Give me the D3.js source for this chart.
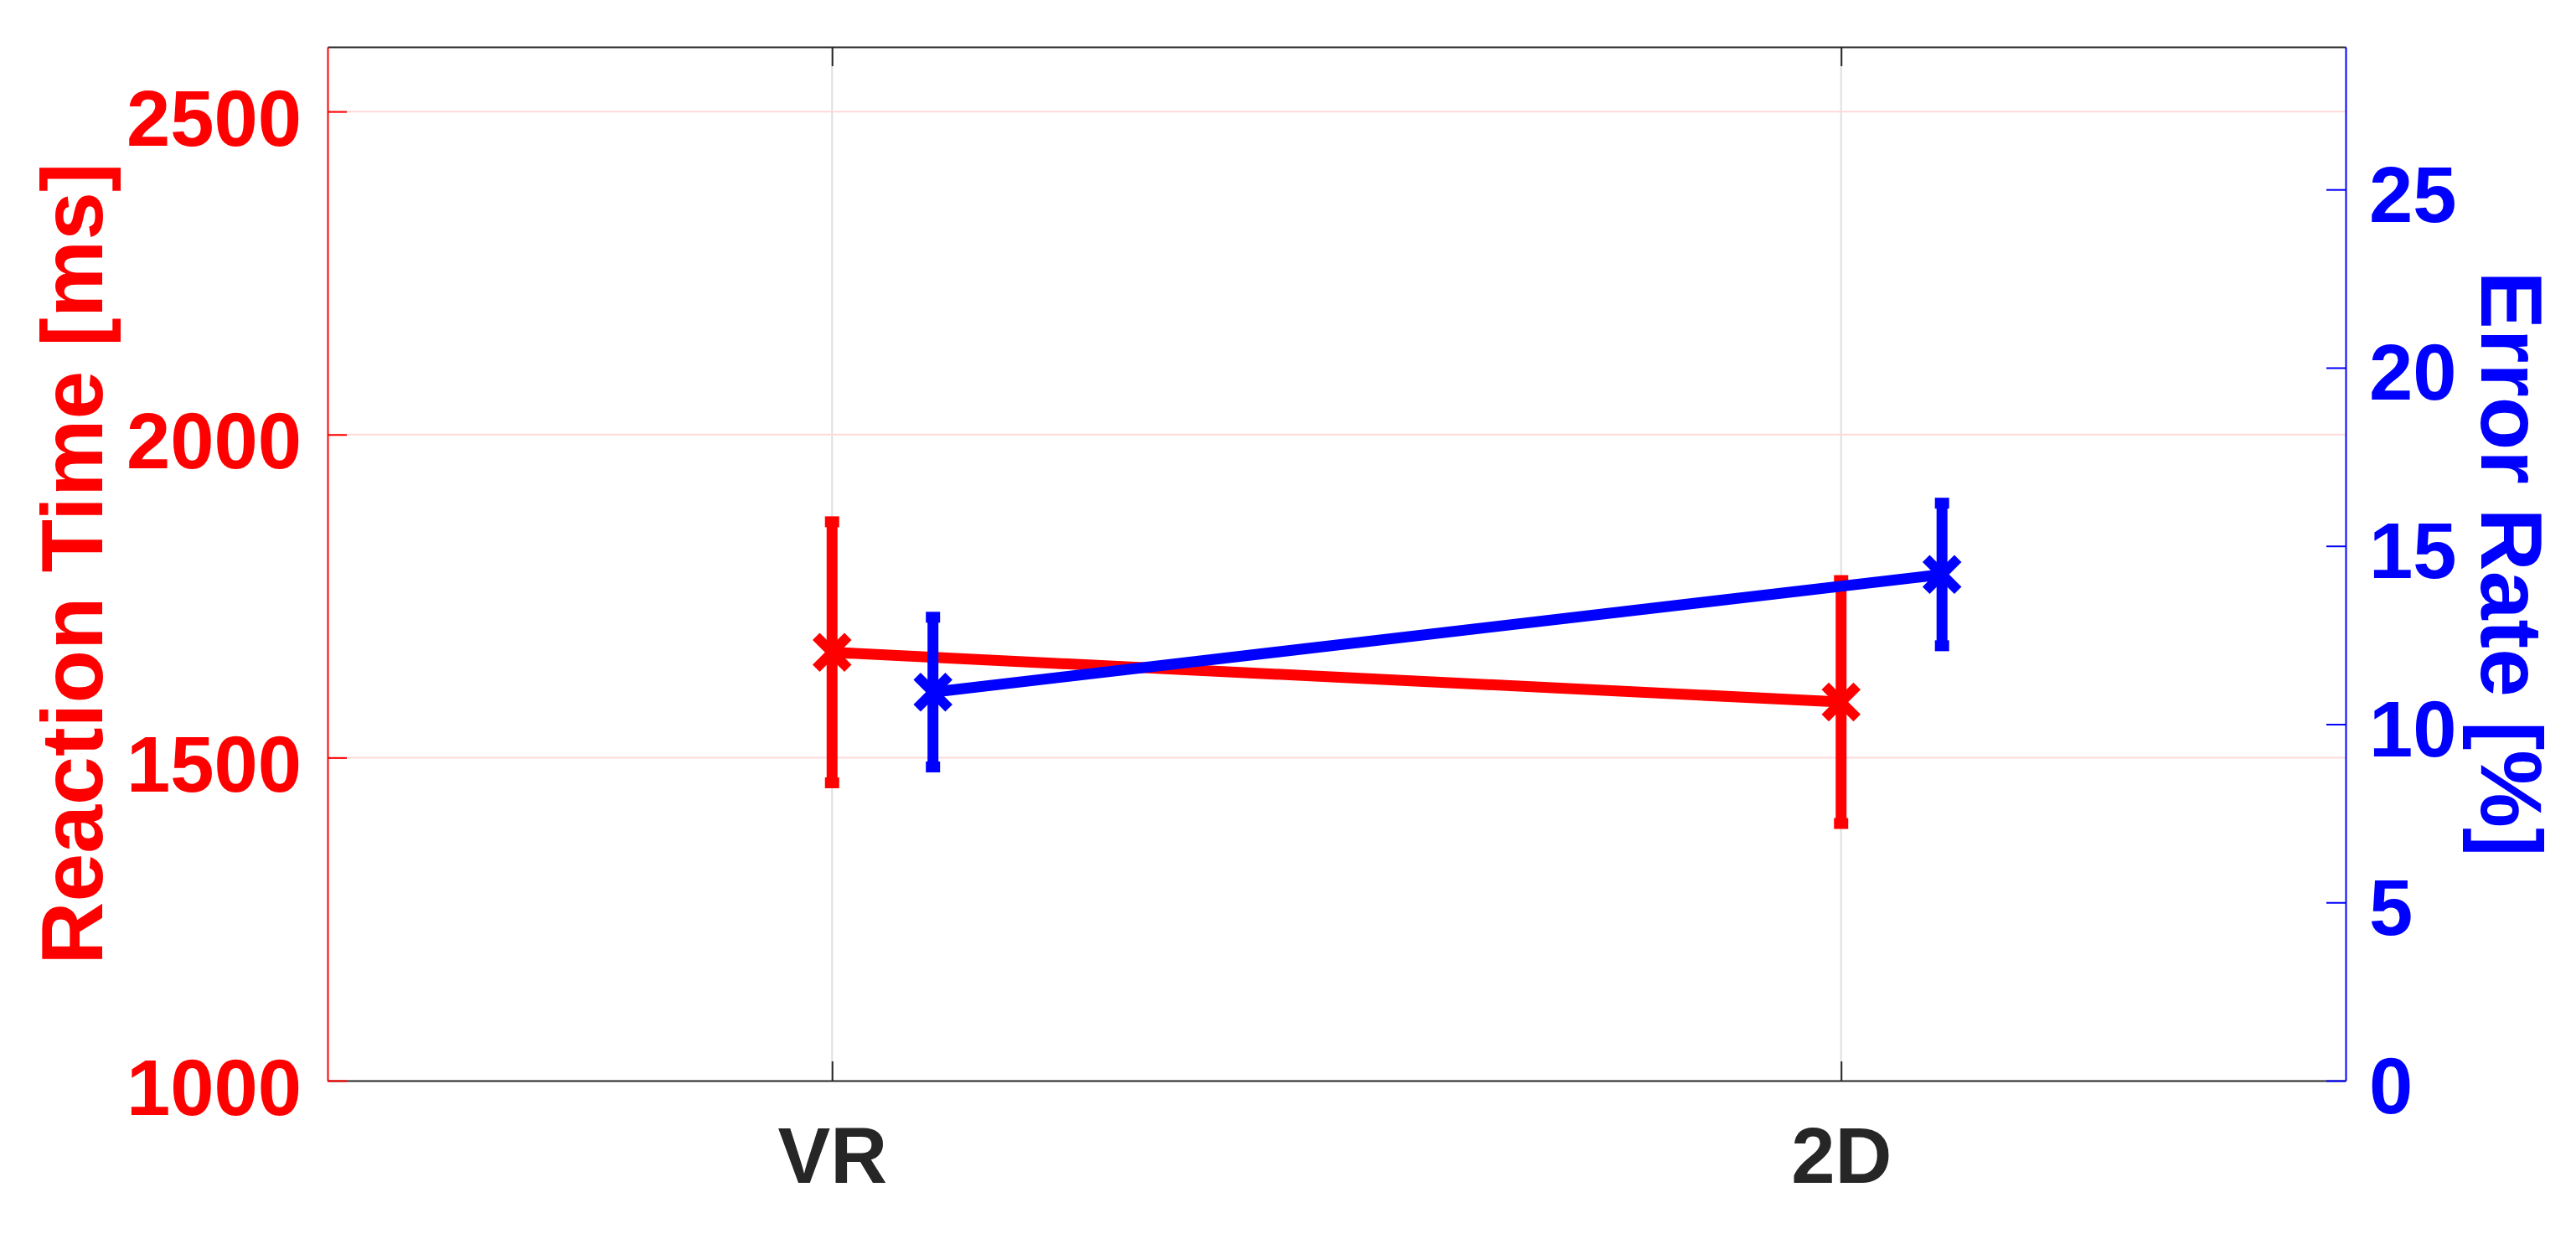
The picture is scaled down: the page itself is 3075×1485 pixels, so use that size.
<!DOCTYPE html>
<html>
<head>
<meta charset="utf-8">
<script src="https://cdn.jsdelivr.net/npm/d3@7"></script>
<style>
  html, body { margin: 0; padding: 0; background: #ffffff; }
  svg { display: block; }
  text { font-family: "Liberation Sans", Arial, Helvetica, sans-serif; font-weight: bold; }
</style>
</head>
<body>
<svg id="chart" width="3075" height="1485"></svg>
<script>
// ---- Data ----
const categories = ["VR", "2D"];
const rtMean = [1663, 1586];      // Reaction Time [ms]
const rtErr = [202, 188];
const errMean = [10.9, 14.2];     // Error Rate [%]
const errErr = [2.1, 2.0];
const leftTicks = [1000, 1500, 2000, 2500];
const rightTicks = [0, 5, 10, 15, 20, 25];
const errOffset = 0.1;

// ---- Layout ----
const W = 3075, H = 1485;
const L = 391, R = 2800, T = 56, B = 1290;
const RED = "#ff0000", BLUE = "#0000ff", DARK = "#262626";

const svg = d3.select("#chart");
svg.append("rect").attr("width", W).attr("height", H).attr("fill", "#fff");

const x = d3.scaleLinear().domain([0.5, 2.5]).range([L, R]);
const yL = d3.scaleLinear().domain([1000, 2600]).range([B, T]);
const yR = d3.scaleLinear().domain([0, 29]).range([B, T]);

// ---- Grid ----
const grid = svg.append("g");
grid.selectAll(".vg").data(categories).enter().append("line")
  .attr("x1", (d, i) => x(i + 1)).attr("x2", (d, i) => x(i + 1))
  .attr("y1", T).attr("y2", B)
  .attr("stroke", "#dfdfdf").attr("stroke-width", 2);
grid.selectAll(".hg").data(leftTicks.filter(v => v > 1000)).enter().append("line")
  .attr("x1", L).attr("x2", R)
  .attr("y1", d => yL(d)).attr("y2", d => yL(d))
  .attr("stroke", "#ffd9d9").attr("stroke-width", 2);

// ---- Axes ----
const tickLen = 23;
const xAxisB = d3.axisBottom(x).tickValues([1, 2]).tickFormat((d) => categories[d - 1])
  .tickSizeInner(-tickLen).tickSizeOuter(0).tickPadding(0);
const gB = svg.append("g").attr("transform", `translate(0,${B})`).call(xAxisB);
gB.select(".domain").attr("stroke", DARK).attr("stroke-width", 2);
gB.selectAll(".tick line").attr("stroke", DARK).attr("stroke-width", 2);
gB.selectAll(".tick text").attr("fill", DARK).attr("font-size", 94)
  .attr("dy", null).attr("y", 122);

const xAxisT = d3.axisTop(x).tickValues([1, 2]).tickFormat("")
  .tickSizeInner(-tickLen).tickSizeOuter(0);
const gT = svg.append("g").attr("transform", `translate(0,${T})`).call(xAxisT);
gT.select(".domain").attr("stroke", DARK).attr("stroke-width", 2);
gT.selectAll(".tick line").attr("stroke", DARK).attr("stroke-width", 2);

const yAxisL = d3.axisLeft(yL).tickValues(leftTicks).tickFormat(d3.format("d"))
  .tickSizeInner(-tickLen).tickSizeOuter(0).tickPadding(0);
const gL = svg.append("g").attr("transform", `translate(${L},0)`).call(yAxisL);
gL.select(".domain").attr("stroke", RED).attr("stroke-width", 2);
gL.selectAll(".tick line").attr("stroke", RED).attr("stroke-width", 2);
gL.selectAll(".tick text").attr("fill", RED).attr("font-size", 94)
  .attr("x", -31).attr("dy", null).attr("y", 40).attr("text-anchor", "end");

const yAxisR = d3.axisRight(yR).tickValues(rightTicks).tickFormat(d3.format("d"))
  .tickSizeInner(-tickLen).tickSizeOuter(0).tickPadding(0);
const gR = svg.append("g").attr("transform", `translate(${R},0)`).call(yAxisR);
gR.select(".domain").attr("stroke", BLUE).attr("stroke-width", 2);
gR.selectAll(".tick line").attr("stroke", BLUE).attr("stroke-width", 2);
gR.selectAll(".tick text").attr("fill", BLUE).attr("font-size", 94)
  .attr("x", 28).attr("dy", null).attr("y", 38).attr("text-anchor", "start");

// Axis labels
const midY = (T + B) / 2;
svg.append("text")
  .attr("transform", `translate(122,${midY}) rotate(-90)`)
  .attr("text-anchor", "middle").attr("fill", RED).attr("font-size", 104)
  .text("Reaction Time [ms]");
svg.append("text")
  .attr("transform", `translate(2962,${midY}) rotate(90)`)
  .attr("text-anchor", "middle").attr("fill", BLUE).attr("font-size", 104)
  .text("Error Rate [%]");

// ---- Series ----
function drawSeries(means, errs, yScale, offset, color) {
  const g = svg.append("g");
  const pts = means.map((m, i) => ({ cx: x(i + 1 + offset), m, e: errs[i] }));
  const line = d3.line().x(d => d.cx).y(d => yScale(d.m));
  g.append("path").datum(pts).attr("d", line)
    .attr("fill", "none").attr("stroke", color).attr("stroke-width", 13)
    .attr("stroke-linejoin", "miter");
  g.selectAll(".eb").data(pts).enter().append("line")
    .attr("x1", d => d.cx).attr("x2", d => d.cx)
    .attr("y1", d => yScale(d.m - d.e)).attr("y2", d => yScale(d.m + d.e))
    .attr("stroke", color).attr("stroke-width", 13);
  const capHalf = 8.5;
  ["lo", "hi"].forEach(k => {
    g.selectAll(".cap" + k).data(pts).enter().append("line")
      .attr("x1", d => d.cx - capHalf).attr("x2", d => d.cx + capHalf)
      .attr("y1", d => yScale(k === "lo" ? d.m - d.e : d.m + d.e))
      .attr("y2", d => yScale(k === "lo" ? d.m - d.e : d.m + d.e))
      .attr("stroke", color).attr("stroke-width", 13);
  });
  const s = 19;
  g.selectAll(".mk").data(pts).enter().append("path")
    .attr("d", d => {
      const cy = yScale(d.m);
      return `M${d.cx - s},${cy - s}L${d.cx + s},${cy + s}M${d.cx - s},${cy + s}L${d.cx + s},${cy - s}`;
    })
    .attr("fill", "none").attr("stroke", color).attr("stroke-width", 12);
}

drawSeries(rtMean, rtErr, yL, 0, RED);
drawSeries(errMean, errErr, yR, errOffset, BLUE);
</script>
</body>
</html>
